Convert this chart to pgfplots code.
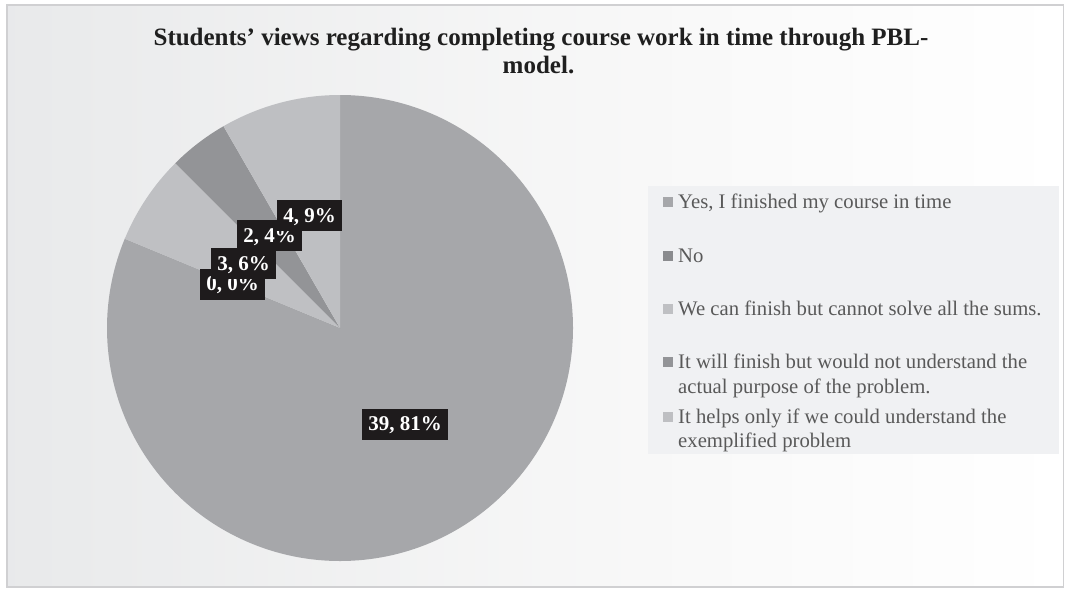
\documentclass[border=0pt]{standalone}
\usepackage{pgfplots}
\pgfplotsset{compat=1.18}
\usepackage{pgfplotstable}
\usepackage{fontspec}
\setmainfont{Liberation Serif}

\definecolor{cYes}{HTML}{A6A7AA}
\definecolor{cNo}{HTML}{8A8B8E}
\definecolor{cSums}{HTML}{BFC0C3}
\definecolor{cPurpose}{HTML}{939497}
\definecolor{cHelps}{HTML}{BEBFC2}
\definecolor{labbg}{HTML}{1E1B1C}
\definecolor{legtext}{HTML}{595959}
\definecolor{legbg}{HTML}{F0F1F3}
\definecolor{framec}{HTML}{D0D0D2}
\definecolor{titlec}{HTML}{1F1F1F}
\definecolor{bgA}{HTML}{DADBDE}
\definecolor{bgB}{HTML}{EAEBEC}
\definecolor{bgC}{HTML}{F8F8F8}

\pgfdeclarehorizontalshading{bgshade}{100bp}{color(0bp)=(bgA); color(28bp)=(bgB); color(55bp)=(bgC); color(75bp)=(white); color(100bp)=(white)}

% value, shown percent, colour, label centre (px from top-left)
\pgfplotstableread{
value pct colour lx ly
39 81 cYes 405 424
0 0 cNo 232.5 284
3 6 cSums 243.5 263.5
2 4 cPurpose 269.5 235.5
4 9 cHelps 309.5 215.5
}\piedata

\tikzset{
  lab/.style={fill=labbg, text=white, font=\bfseries\fontsize{21}{21}\selectfont,
    inner xsep=6pt, inner ysep=0pt, minimum height=31pt, text depth=0pt},
  leg/.style={anchor=base west, inner sep=0pt, text=legtext,
    font=\fontsize{20.7}{25}\selectfont},
}

\begin{document}
\begin{tikzpicture}
\begin{axis}[
    scale only axis,
    width=1065pt, height=589pt,
    xmin=0, xmax=1065, ymin=0, ymax=589,
    y dir=reverse,
    hide axis,
    clip=false,
  ]
  % background and frame
  \fill[white] (axis cs:0,0) rectangle (axis cs:1065,589);
  \shade[shading=bgshade] (axis cs:7,5) rectangle (axis cs:1063.5,587);
  \draw[framec, line width=1.5pt] (axis cs:7,5) rectangle (axis cs:1063.5,587);

  % title
  \node[anchor=base, inner sep=0pt, text=titlec, font=\bfseries\fontsize{25}{28}\selectfont]
    at (axis cs:541,45) {Students’ views regarding completing course work in time through PBL-};
  \node[anchor=base, inner sep=0pt, text=titlec, font=\bfseries\fontsize{25}{28}\selectfont]
    at (axis cs:538.5,73) {model.};

  % total
  \def\tot{0}
  \pgfplotsforeachungrouped \i in {0,...,4}{%
    \pgfplotstablegetelem{\i}{value}\of\piedata
    \pgfmathsetmacro\tot{\tot+\pgfplotsretval}%
  }

  % slices, clockwise from 12 o'clock
  \def\cum{0}
  \pgfplotsforeachungrouped \i in {0,...,4}{%
    \pgfplotstablegetelem{\i}{value}\of\piedata \let\v\pgfplotsretval
    \pgfplotstablegetelem{\i}{colour}\of\piedata \let\c\pgfplotsretval
    \pgfmathsetmacro\aS{90-360*(\cum/\tot)}%
    \pgfmathsetmacro\cum{\cum+\v}%
    \pgfmathsetmacro\aE{90-360*(\cum/\tot)}%
    \edef\tmp{\noexpand\fill[\c] (axis cs:340,328) -- ++(\aS:233pt)
      arc[start angle=\aS, end angle=\aE, radius=233pt] -- cycle;}%
    \tmp
  }

  % data labels
  \pgfplotsforeachungrouped \i in {0,...,4}{%
    \pgfplotstablegetelem{\i}{value}\of\piedata \let\v\pgfplotsretval
    \pgfplotstablegetelem{\i}{pct}\of\piedata \let\p\pgfplotsretval
    \pgfplotstablegetelem{\i}{lx}\of\piedata \let\lx\pgfplotsretval
    \pgfplotstablegetelem{\i}{ly}\of\piedata \let\ly\pgfplotsretval
    \edef\tmp{\noexpand\node[lab] at (axis cs:\lx,\ly) {\v, \p\noexpand\%};}%
    \tmp
  }

  % legend
  \fill[legbg] (axis cs:648,186) rectangle (axis cs:1059,454);
  \fill[cYes] (axis cs:663,197) rectangle (axis cs:673,207);
  \node[leg] at (axis cs:678,208) {Yes, I finished my course in time};
  \fill[cNo] (axis cs:663,251) rectangle (axis cs:673,261);
  \node[leg] at (axis cs:678,262) {No};
  \fill[cSums] (axis cs:663,304) rectangle (axis cs:673,314);
  \node[leg] at (axis cs:678,315) {We can finish but cannot solve all the sums.};
  \fill[cPurpose] (axis cs:663,357) rectangle (axis cs:673,367);
  \node[leg] at (axis cs:678,368) {It will finish but would not understand the};
  \node[leg] at (axis cs:678,393) {actual purpose of the problem.};
  \fill[cHelps] (axis cs:663,412) rectangle (axis cs:673,422);
  \node[leg] at (axis cs:678,423) {It helps only if we could understand the};
  \node[leg] at (axis cs:678,447) {exemplified problem};
\end{axis}
\end{tikzpicture}
\end{document}
